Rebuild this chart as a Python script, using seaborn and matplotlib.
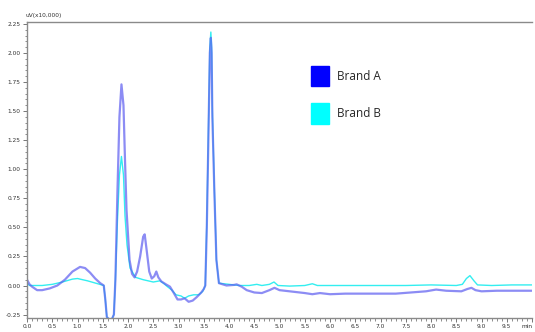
import numpy as np
import pandas as pd
import matplotlib
matplotlib.use("Agg")
import matplotlib.pyplot as plt
from matplotlib.patches import Patch
from matplotlib.ticker import MultipleLocator
import seaborn as sns

# ---- data ----
brand_a_x = [0.00, 0.05, 0.10, 0.20, 0.30, 0.45, 0.60, 0.75, 0.90, 1.05, 1.15, 1.25, 1.35, 1.45,
             1.52, 1.55, 1.58, 1.62, 1.68, 1.72, 1.75, 1.79, 1.83, 1.87, 1.91, 1.94, 1.97, 2.03,
             2.08, 2.13, 2.18, 2.24, 2.30, 2.33, 2.37, 2.42, 2.47, 2.52, 2.56, 2.60, 2.66, 2.75,
             2.83, 2.90, 2.98, 3.05, 3.12, 3.20, 3.28, 3.36, 3.45, 3.50, 3.53, 3.56, 3.59, 3.62,
             3.64, 3.655, 3.67, 3.71, 3.75, 3.80, 3.95, 4.10, 4.15, 4.25, 4.35, 4.50, 4.65, 4.80,
             4.90, 5.00, 5.20, 5.50, 5.65, 5.80, 6.00, 6.30, 6.60, 6.80, 7.00, 7.30, 7.60, 7.90,
             8.10, 8.30, 8.60, 8.72, 8.80, 8.88, 9.00, 9.30, 9.60, 10.0]
brand_a_y = [0.05, 0.01, -0.01, -0.04, -0.04, -0.025, 0.00, 0.05, 0.12, 0.16, 0.15, 0.11, 0.06, 0.02,
             0.00, -0.12, -0.27, -0.29, -0.29, -0.25, 0.05, 0.80, 1.45, 1.73, 1.55, 1.08, 0.65, 0.22,
             0.10, 0.07, 0.12, 0.25, 0.42, 0.44, 0.30, 0.12, 0.06, 0.08, 0.12, 0.07, 0.035, 0.01,
             -0.01, -0.06, -0.12, -0.12, -0.11, -0.14, -0.13, -0.10, -0.06, -0.03, 0.00, 0.50, 1.23, 2.00,
             2.13, 2.00, 1.45, 0.80, 0.22, 0.02, 0.00, 0.005, 0.01, -0.01, -0.04, -0.06, -0.065, -0.04,
             -0.02, -0.04, -0.05, -0.065, -0.075, -0.065, -0.075, -0.07, -0.07, -0.07, -0.07, -0.07, -0.06, -0.05,
             -0.035, -0.045, -0.05, -0.03, -0.02, -0.04, -0.05, -0.045, -0.045, -0.045]

brand_b_x = [0.00, 0.05, 0.30, 0.50, 0.70, 0.90, 1.00, 1.20, 1.40, 1.52, 1.55, 1.58, 1.62, 1.68,
             1.72, 1.75, 1.79, 1.83, 1.87, 1.91, 1.94, 1.98, 2.04, 2.15, 2.30, 2.50, 2.63, 2.70,
             2.78, 2.87, 2.95, 3.05, 3.12, 3.20, 3.30, 3.40, 3.48, 3.53, 3.56, 3.59, 3.62, 3.64,
             3.655, 3.67, 3.71, 3.75, 3.80, 4.10, 4.20, 4.40, 4.55, 4.65, 4.80, 4.89, 4.97, 5.20,
             5.50, 5.65, 5.75, 6.00, 6.50, 7.00, 7.50, 8.00, 8.50, 8.62, 8.70, 8.77, 8.85, 8.92,
             9.20, 9.60, 10.0]
brand_b_y = [0.02, 0.00, 0.00, 0.01, 0.03, 0.055, 0.06, 0.04, 0.015, 0.00, -0.12, -0.27, -0.29, -0.29,
             -0.25, 0.05, 0.55, 0.95, 1.11, 0.95, 0.60, 0.35, 0.15, 0.07, 0.05, 0.03, 0.04, 0.02,
             -0.01, -0.04, -0.08, -0.09, -0.11, -0.09, -0.08, -0.08, -0.05, 0.00, 0.55, 1.30, 2.05, 2.18,
             2.05, 1.50, 0.82, 0.22, 0.02, 0.005, 0.00, 0.00, 0.01, 0.00, 0.01, 0.03, 0.00, -0.005,
             0.00, 0.015, 0.00, 0.00, 0.00, 0.00, 0.00, 0.005, 0.00, 0.01, 0.06, 0.085, 0.04, 0.005,
             0.00, 0.005, 0.005]

x_ticks = [0.0, 0.5, 1.0, 1.5, 2.0, 2.5, 3.0, 3.5, 4.0, 4.5, 5.0, 5.5, 6.0, 6.5, 7.0, 7.5,
           8.0, 8.5, 9.0, 9.5, 10.0]
x_tick_labels = ["0.0", "0.5", "1.0", "1.5", "2.0", "2.5", "3.0", "3.5", "4.0", "4.5", "5.0",
                 "5.5", "6.0", "6.5", "7.0", "7.5", "8.0", "8.5", "9.0", "9.5", "min"]
y_ticks = [-0.25, 0.00, 0.25, 0.50, 0.75, 1.00, 1.25, 1.50, 1.75, 2.00, 2.25]
y_tick_labels = ["-0.25", "0.00", "0.25", "0.50", "0.75", "1.00", "1.25", "1.50", "1.75",
                 "2.00", "2.25"]
series_names = ["Brand A", "Brand B"]
legend_colors = ["#0000ff", "#00ffff"]

df_a = pd.DataFrame({"t": brand_a_x, "uV": brand_a_y})
df_b = pd.DataFrame({"t": brand_b_x, "uV": brand_b_y})

sns.set_style("white")
plt.rcParams["font.family"] = ["DejaVu Sans"]

fig = plt.figure(figsize=(5.35, 3.32), dpi=100)
ax = fig.add_axes([0.0505, 0.042, 0.944, 0.893])

sns.lineplot(data=df_b, x="t", y="uV", ax=ax, color="#33eef0", linewidth=1.0,
             estimator=None, sort=False)
sns.lineplot(data=df_a, x="t", y="uV", ax=ax, color="#5c5cf0", linewidth=1.6,
             alpha=0.7, estimator=None, sort=False)

ax.set_xlim(0, 10.0)
ax.set_ylim(-0.28, 2.27)
ax.set_xticks(x_ticks)
ax.set_xticklabels(x_tick_labels)
ax.set_yticks(y_ticks)
ax.set_yticklabels(y_tick_labels)
ax.xaxis.set_minor_locator(MultipleLocator(0.1))
ax.yaxis.set_minor_locator(MultipleLocator(0.05))
ax.tick_params(axis="both", which="major", labelsize=4.2, length=3, width=0.6,
               color="#606060", labelcolor="#333333", pad=1.5)
ax.tick_params(axis="both", which="minor", length=1.8, width=0.5, color="#606060")
ax.tick_params(axis="x", which="both", bottom=True)
ax.tick_params(axis="y", which="both", left=True)
ax.set_xlabel("")
ax.set_ylabel("")
# keep the final "min" label inside the canvas
ax.get_xticklabels()[-1].set_horizontalalignment("right")

for side in ["left", "bottom", "top"]:
    ax.spines[side].set_color("#8a8a8a")
    ax.spines[side].set_linewidth(1.0)
ax.spines["right"].set_visible(False)

fig.text(0.047, 0.946, "uV(x10,000)", fontsize=4.2, color="#333333", ha="left", va="bottom")

handles = [Patch(facecolor=c, edgecolor=c) for c in legend_colors]
ax.legend(handles, series_names, loc="upper left", bbox_to_anchor=(0.541, 0.887),
          frameon=False, handlelength=1.5, handleheight=2.3,
          labelspacing=1.42, handletextpad=0.7, prop={"family": "Open Sans", "size": 8.5})

fig.savefig("out.png", dpi=100)
